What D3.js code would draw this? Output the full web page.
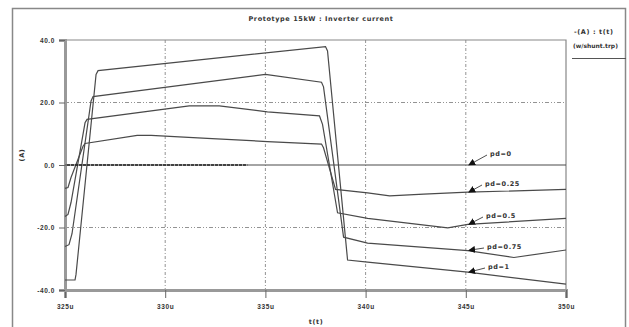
<!DOCTYPE html>
<html>
<head>
<meta charset="utf-8">
<script src="https://cdn.jsdelivr.net/npm/d3@7"></script>
<style>
  html, body { margin: 0; padding: 0; background: #fff; }
  svg { display: block; font-family: "DejaVu Sans", sans-serif; }
  .lbl { fill: #333; font-size: 6.5px; font-weight: bold; letter-spacing: 0.6px; }
</style>
</head>
<body>
<div id="chart"></div>
<script>
// time in microseconds, current in A
var xTicks = [325, 330, 335, 340, 345, 350];
var yTicks = [-40, -20, 0, 20, 40];
var seriesNames = ["pd=0", "pd=0.25", "pd=0.5", "pd=0.75", "pd=1"];

var pd0 = [[325, 0], [350, 0]];
var pd025 = [[325, -7.5], [325.15, -7.2], [325.3, -4], [325.9, 6], [326.0, 6.9], [328.6, 9.5], [329.3, 9.5],
  [332.1, 8.5], [335.1, 7.5], [337.8, 6.7], [337.9, 5.5], [338.5, -7.8], [340.1, -8.9], [341.2, -9.9],
  [342.9, -9.3], [345.1, -8.7], [350, -7.8]];
var pd05 = [[325, -16.5], [325.15, -15.8], [325.3, -12], [326.0, 13.5], [326.1, 14.6], [331.2, 18.9],
  [332.7, 18.9], [335.1, 17], [337.7, 15.7], [337.85, 13], [338.6, -15.3], [340.1, -17.1], [344.1, -20.1],
  [345.1, -19], [350, -17.1]];
var pd075 = [[325, -26.1], [325.2, -25.5], [325.35, -22], [326.3, 20.5], [326.4, 21.9], [335.0, 29],
  [337.8, 26.5], [337.9, 25], [338.9, -23.1], [340.1, -25], [345.1, -27.4], [347.4, -29.6], [350, -27.2]];
var pd1 = [[325, -36.8], [325.5, -36.8], [325.55, -35], [326.55, 29], [326.65, 30.2], [338.0, 37.9],
  [338.1, 36.5], [339.1, -30.4], [340.1, -31.1], [345.1, -34.3], [350, -38.1]];
var allSeries = [pd0, pd025, pd05, pd075, pd1];

// where the labels point at the traces
var markT = 345.1;
var markY = [0, -8.7, -19, -27.3, -34.3];
var labelPos = [[490, 156], [485, 186], [486, 218], [487, 249], [488, 269]];

var W = 629, H = 327;
var svg = d3.select("#chart").append("svg").attr("width", W).attr("height", H);

var x = d3.scaleLinear().domain([325, 350]).range([65, 566]);
var y = d3.scaleLinear().domain([-40, 40]).range([290, 40]);

// outer frame
svg.append("rect").attr("x", 12.5).attr("y", 8.5).attr("width", 613).attr("height", 330)
  .attr("fill", "none").attr("stroke", "#888").attr("stroke-width", 1.5);

// grid
svg.selectAll(".vg").data(xTicks.slice(1, -1)).enter().append("line")
  .attr("x1", function(d) { return x(d); }).attr("x2", function(d) { return x(d); })
  .attr("y1", y(40)).attr("y2", y(-40))
  .attr("stroke", "#777").attr("stroke-width", 0.8).attr("stroke-dasharray", "3,2,1,2");
svg.selectAll(".hg").data([20, -20]).enter().append("line")
  .attr("x1", x(325)).attr("x2", x(350))
  .attr("y1", function(d) { return y(d); }).attr("y2", function(d) { return y(d); })
  .attr("stroke", "#777").attr("stroke-width", 0.8).attr("stroke-dasharray", "4,2,1,2,1,2");

// plot border: thin top/right, heavy left/bottom
svg.append("path").attr("d", "M" + x(325) + "," + y(40) + "H" + x(350) + "V" + y(-40))
  .attr("fill", "none").attr("stroke", "#888").attr("stroke-width", 1.2);

var xAxis = d3.axisBottom(x).tickValues(xTicks).tickSize(8).tickPadding(6)
  .tickFormat(function(d) { return d + "u"; });
var gx = svg.append("g").attr("transform", "translate(0," + y(-40) + ")").call(xAxis);
var yAxis = d3.axisLeft(y).tickValues(yTicks).tickSize(6).tickPadding(4)
  .tickFormat(function(d) { return d.toFixed(1); });
var gy = svg.append("g").attr("transform", "translate(" + x(325) + ",0)").call(yAxis);
[gx, gy].forEach(function(g) {
  g.select(".domain").attr("stroke", "#999").attr("stroke-width", 3);
  g.selectAll(".tick line").attr("stroke", "#666");
  g.selectAll(".tick text").attr("class", "lbl").attr("font-family", null).attr("font-size", null);
});

// traces
var line = d3.line().x(function(d) { return x(d[0]); }).y(function(d) { return y(d[1]); });
svg.selectAll(".trace").data(allSeries).enter().append("path")
  .attr("d", line).attr("fill", "none").attr("stroke", "#4a4a4a").attr("stroke-width", 1.2);

// darker marker run on the zero trace
svg.append("line").attr("x1", x(325.1)).attr("x2", x(334.1)).attr("y1", y(0)).attr("y2", y(0))
  .attr("stroke", "#222").attr("stroke-width", 1.6).attr("stroke-dasharray", "3,1");

// labels with arrows
svg.append("defs").append("marker").attr("id", "arr").attr("viewBox", "0 0 10 10")
  .attr("refX", 9).attr("refY", 5).attr("markerWidth", 7).attr("markerHeight", 7)
  .attr("orient", "auto").attr("markerUnits", "userSpaceOnUse")
  .append("path").attr("d", "M0,0L10,5L0,10z").attr("fill", "#111");
seriesNames.forEach(function(name, i) {
  var tx = x(markT), ty = y(markY[i]);
  svg.append("line").attr("x1", labelPos[i][0] - 3).attr("y1", labelPos[i][1] - 1)
    .attr("x2", tx + 1).attr("y2", ty)
    .attr("stroke", "#222").attr("stroke-width", 0.8).attr("marker-end", "url(#arr)");
  svg.append("text").attr("class", "lbl").attr("x", labelPos[i][0]).attr("y", labelPos[i][1]).text(name);
});

// titles
svg.append("text").attr("class", "lbl").attr("x", 321).attr("y", 21).attr("text-anchor", "middle")
  .text("Prototype 15kW : Inverter current");
svg.append("text").attr("class", "lbl").attr("x", 316).attr("y", 324).attr("text-anchor", "middle").text("t(t)");
svg.append("text").attr("class", "lbl").attr("transform", "translate(24,155) rotate(-90)")
  .attr("text-anchor", "middle").text("(A)");

// legend
svg.append("text").attr("class", "lbl").attr("x", 574).attr("y", 34).text("-(A) : t(t)");
svg.append("text").attr("class", "lbl").attr("x", 573).attr("y", 48)
  .style("letter-spacing", "0px").style("font-size", "6px").text("(w/shunt.trp)");
svg.append("line").attr("x1", 572).attr("x2", 626).attr("y1", 58.5).attr("y2", 58.5)
  .attr("stroke", "#555").attr("stroke-width", 1);
</script>
</body>
</html>
